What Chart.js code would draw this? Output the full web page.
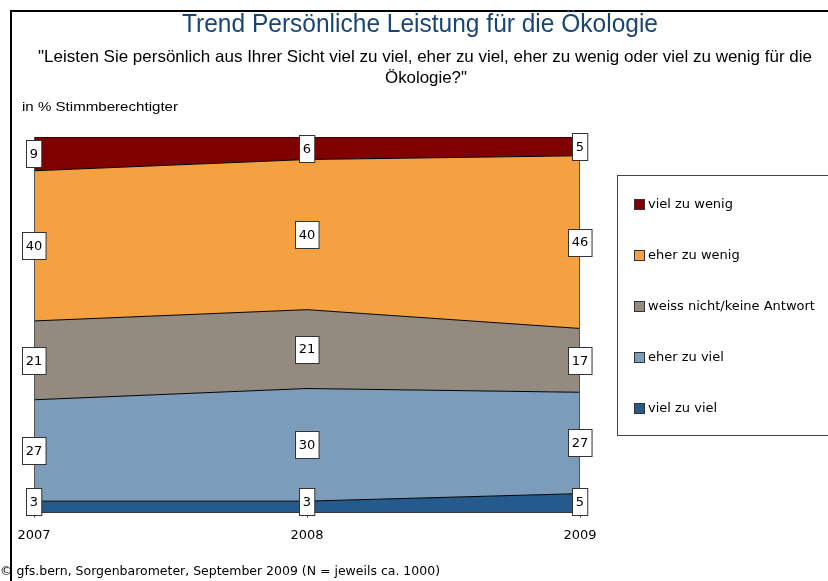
<!DOCTYPE html>
<html>
<head>
<meta charset="utf-8">
<script src="https://cdn.jsdelivr.net/npm/chart.js@4.4.0/dist/chart.umd.min.js"></script>
<style>
  html, body { margin: 0; padding: 0; background: #fff; }
  #wrap { position: relative; width: 828px; height: 581px; }
</style>
</head>
<body>
<div id="wrap"><canvas id="chart" width="828" height="581"></canvas></div>
<script>
var years = ['2007', '2008', '2009'];
var serie = ['viel zu viel', 'eher zu viel', 'weiss nicht/keine Antwort', 'eher zu wenig', 'viel zu wenig'];
var vielZuViel = [3, 3, 5];
var eherZuViel = [27, 30, 27];
var weissNicht = [21, 21, 17];
var eherZuWenig = [40, 40, 46];
var vielZuWenig = [9, 6, 5];
var colori = ['#255b8c', '#7b9cba', '#938a80', '#f5a142', '#800000'];

var valori = [vielZuViel, eherZuViel, weissNicht, eherZuWenig, vielZuWenig];
var datasets = [];
for (var i = 0; i < serie.length; i++) {
  datasets.push({
    label: serie[i],
    data: valori[i],
    backgroundColor: colori[i],
    borderColor: '#000',
    borderWidth: 1,
    fill: i == 0 ? 'origin' : '-1',
    pointRadius: 0,
    tension: 0
  });
}

var NARROW = '"Liberation Sans Narrow", "Liberation Sans", sans-serif';

// scrive un testo con dimensione fissa, stringendolo alla larghezza voluta
function fitText(ctx, text, family, size, width, x, y, align) {
  ctx.font = size + 'px ' + family;
  var w = ctx.measureText(text).width;
  var sx = width / w;
  ctx.save();
  ctx.translate(x, y);
  ctx.scale(sx, 1);
  ctx.textAlign = align;
  ctx.fillText(text, 0, 0);
  ctx.restore();
}

var testi = {
  id: 'testi',
  afterDraw: function(chart) {
    var ctx = chart.ctx;
    var area = chart.chartArea;
    ctx.save();

    // cornice
    ctx.strokeStyle = '#000';
    ctx.lineWidth = 2;
    ctx.beginPath();
    ctx.moveTo(11, 581);
    ctx.lineTo(11, 11);
    ctx.lineTo(828, 11);
    ctx.stroke();

    // bordi laterali area
    ctx.lineWidth = 1;
    ctx.strokeStyle = '#555';
    ctx.beginPath();
    ctx.moveTo(area.left + 0.5, area.top);
    ctx.lineTo(area.left + 0.5, area.bottom);
    ctx.moveTo(area.right - 0.5, area.top);
    ctx.lineTo(area.right - 0.5, area.bottom);
    ctx.stroke();

    ctx.textBaseline = 'middle';
    ctx.fillStyle = '#1b4674';
    fitText(ctx, 'Trend Persönliche Leistung für die Ökologie', NARROW, 25, 476, 420, 25, 'center');
    ctx.fillStyle = '#000';
    fitText(ctx, '"Leisten Sie persönlich aus Ihrer Sicht viel zu viel, eher zu viel, eher zu wenig oder viel zu wenig für die', NARROW, 16.5, 774, 425, 57, 'center');
    fitText(ctx, 'Ökologie?"', NARROW, 16.5, 82, 426, 78, 'center');
    fitText(ctx, 'in % Stimmberechtigter', NARROW, 13.5, 156, 22, 107, 'left');
    fitText(ctx, '© gfs.bern, Sorgenbarometer, September 2009 (N = jeweils ca. 1000)', '"DejaVu Sans", sans-serif', 12, 440, 0, 572, 'left');

    // etichette dei valori
    ctx.font = '13px "DejaVu Sans", sans-serif';
    ctx.textAlign = 'center';
    var yScale = chart.scales.y;
    for (var d = 0; d < chart.data.datasets.length; d++) {
      var meta = chart.getDatasetMeta(d);
      for (var p = 0; p < meta.data.length; p++) {
        var v = chart.data.datasets[d].data[p];
        var base = 0;
        for (var k = 0; k < d; k++) base += chart.data.datasets[k].data[p];
        var yc = yScale.getPixelForValue(base + v / 2);
        var x = meta.data[p].x;
        var txt = String(v);
        var bw = ctx.measureText(txt).width + 7;
        var bh = 27;
        if (yc + bh / 2 > area.bottom + 3) yc = area.bottom + 3 - bh / 2;
        var bx = Math.round(x - bw / 2) + 0.5;
        var by = Math.round(yc - bh / 2) + 0.5;
        ctx.fillStyle = '#fff';
        ctx.fillRect(bx, by, bw, bh);
        ctx.strokeStyle = '#333';
        ctx.lineWidth = 1;
        ctx.strokeRect(bx, by, bw, bh);
        ctx.fillStyle = '#000';
        ctx.fillText(txt, x, yc + 1);
      }
    }

    // legenda
    ctx.strokeStyle = '#444';
    ctx.strokeRect(617.5, 175.5, 215, 260);
    ctx.font = '13px "DejaVu Sans", sans-serif';
    ctx.textAlign = 'left';
    for (var j = 0; j < chart.data.datasets.length; j++) {
      var ds = chart.data.datasets[chart.data.datasets.length - 1 - j];
      var ly = 205 + j * 51;
      ctx.fillStyle = ds.backgroundColor;
      ctx.fillRect(634.5, ly - 5.5, 10, 10);
      ctx.strokeStyle = '#333';
      ctx.strokeRect(634.5, ly - 5.5, 10, 10);
      ctx.fillStyle = '#000';
      ctx.fillText(ds.label, 648, ly);
    }
    ctx.restore();
  }
};

var chart = new Chart(document.getElementById('chart'), {
  type: 'line',
  data: { labels: years, datasets: datasets },
  options: {
    responsive: false,
    animation: false,
    layout: { padding: { left: 34, right: 248, top: 137, bottom: 28 } },
    plugins: { legend: { display: false }, tooltip: { enabled: false } },
    scales: {
      x: {
        offset: false,
        grid: { drawOnChartArea: false, drawTicks: true, tickLength: 5, color: '#333' },
        border: { display: true, color: '#333' },
        ticks: { color: '#000', padding: 10, maxRotation: 0, font: { family: '"DejaVu Sans", sans-serif', size: 13 } }
      },
      y: {
        display: false,
        stacked: true,
        min: 0,
        max: 100
      }
    }
  },
  plugins: [testi]
});
</script>
</body>
</html>
